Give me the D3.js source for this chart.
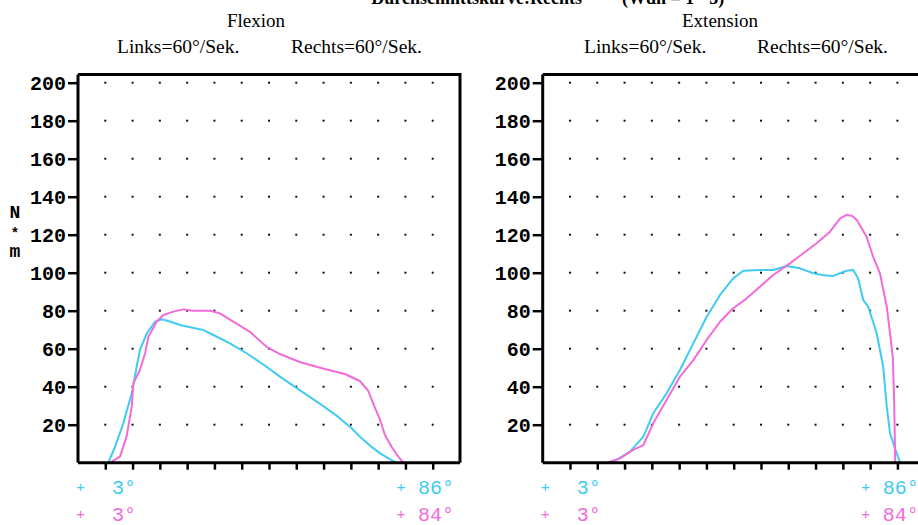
<!DOCTYPE html>
<html>
<head>
<meta charset="utf-8">
<script src="https://cdn.jsdelivr.net/npm/d3@7"></script>
<style>
  html, body { margin: 0; padding: 0; background: #fff; }
  svg { display: block; }
</style>
</head>
<body>
<svg id="chart" width="918" height="525"></svg>
<script>
// Torque curves (N*m) over the movement, sampled along the time axis (0..140)
const flexionLinks = [
  [11.1, 0], [13.6, 8.4], [16.6, 20.7], [19.7, 36.5], [21.5, 50.5], [22.7, 59.3],
  [25.2, 68], [28.2, 74.2], [30.7, 75.5], [34, 74.2], [37.4, 72.5], [42, 71],
  [45.9, 69.8], [49.6, 67.2], [55.7, 62.8], [61.8, 57.6], [69.1, 50.5], [74.0, 45.3],
  [81, 38.5], [88.7, 31], [95, 24.5], [100.4, 18], [103.3, 13.7], [107, 9],
  [110.7, 4.9], [114.9, 1.4], [116.8, 0]
];
const flexionRechts = [
  [11.7, 0], [15.4, 3.2], [17.8, 13.7], [19.7, 29.5], [20.3, 41.8], [22.7, 48.8],
  [24.6, 57.6], [25.8, 66.3], [28.8, 74.2], [31.3, 77.7], [35, 79.5], [38.6, 80.7],
  [42.2, 80], [48.4, 80], [52.0, 78.6], [56.9, 74.2], [63.0, 68.9], [69.1, 61],
  [74.0, 57.2], [81.3, 53], [88.7, 50], [97.8, 46.7], [103.3, 43], [106.3, 38],
  [108.5, 30], [110.7, 22.5], [112.5, 14.6], [114.9, 8.4], [117.4, 3.2], [119.2, 0]
];
const extensionLinks = [
  [23.5, 0], [25.9, 0.5], [32.0, 5.8], [36.9, 13.7], [40.5, 26], [45.4, 36.5],
  [50.3, 48.8], [55.2, 62.8], [60.1, 76.8], [65.0, 88.3], [69.8, 97], [73.5, 101],
  [79.6, 101.4], [84.5, 101.4], [89.4, 103.5], [94.3, 102.3], [99.2, 99.7],
  [103, 98.6], [106.5, 98.3], [111.4, 101], [113.8, 101.4], [115.6, 97], [117.5, 85.6],
  [119.3, 82.1], [122.4, 68.1], [123.6, 59.3], [124.8, 50.5], [126.1, 29.5],
  [127.3, 15.5], [129.1, 7.6], [131.0, 0]
];
const extensionRechts = [
  [23.5, 0], [28.3, 2.3], [33.2, 6.7], [36.9, 9.3], [40.5, 20.7], [45.4, 33],
  [50.3, 45.3], [55.2, 54], [60.1, 64.6], [65.0, 74.2], [69.8, 81.3], [74.8, 86.5],
  [79.6, 92.6], [84.5, 98.8], [90.6, 104.9], [95.5, 110.2], [100.4, 115.5],
  [105.3, 121.6], [109.0, 128.6], [111.4, 130.4], [113.3, 130], [115.1, 127.7],
  [118.7, 118.9], [121.1, 108.4], [123.6, 99.7], [126.1, 82.1], [127.3, 68.1],
  [128.3, 55.8], [128.8, 33], [129.2, 0]
];

const yTicks = [20, 40, 60, 80, 100, 120, 140, 160, 180, 200];
const xTicks = [10, 20, 30, 40, 50, 60, 70, 80, 90, 100, 110, 120, 130];

const panelTitles = ["Flexion", "Extension"];
const speedLinks = "Links=60°/Sek.";
const speedRechts = "Rechts=60°/Sek.";
const startAngles = ["3°", "3°"];          // [links, rechts]
const endAngles = [["86°", "84°"], ["86°", "84°"]];

const CYAN = "#3fcbf2";
const MAGENTA = "#f26bd8";

const svg = d3.select("#chart");

// Header line (runs off the top of the page)
svg.append("text")
  .attr("x", 582).attr("y", 4)
  .attr("text-anchor", "end")
  .style("font", "bold 18px 'Liberation Serif', serif")
  .text("Durchschnittskurve:Rechts");
svg.append("text")
  .attr("x", 622).attr("y", 4)
  .style("font", "bold 18px 'Liberation Serif', serif")
  .text("(Wdh = 1 - 5)");

// Unit label
const unit = svg.append("g")
  .style("font", "bold 18px 'Liberation Mono', monospace")
  .attr("text-anchor", "middle");
unit.append("text").attr("x", 15).attr("y", 218).text("N");
unit.append("text").attr("x", 15).attr("y", 238).style("font-size", "14px").text("*");
unit.append("text").attr("x", 15).attr("y", 257).text("m");

const y = d3.scaleLinear().domain([0, 200]).range([462.7, 82.7]);

const panels = [
  { left: 78, title: panelTitles[0], titleX: 256, linksX: 117, rechtsX: 291,
    links: flexionLinks, rechts: flexionRechts, ends: endAngles[0] },
  { left: 542.7, title: panelTitles[1], titleX: 720, linksX: 584, rechtsX: 757,
    links: extensionLinks, rechts: extensionRechts, ends: endAngles[1] }
];

panels.forEach(p => {
  const x = d3.scaleLinear().domain([0, 140]).range([p.left, p.left + 382]);
  const g = svg.append("g");

  // Titles
  g.append("text").attr("x", p.titleX).attr("y", 27)
    .attr("text-anchor", "middle")
    .style("font", "19px 'Liberation Serif', serif")
    .text(p.title);
  g.append("text").attr("x", p.linksX).attr("y", 53)
    .style("font", "19.5px 'Liberation Serif', serif")
    .text(speedLinks);
  g.append("text").attr("x", p.rechtsX).attr("y", 53)
    .style("font", "19.5px 'Liberation Serif', serif")
    .text(speedRechts);

  // Dot grid
  const dots = [];
  xTicks.forEach(xv => yTicks.forEach(yv => dots.push([xv, yv])));
  g.append("g").selectAll("rect").data(dots).join("rect")
    .attr("x", d => x(d[0]) - 1)
    .attr("y", d => y(d[1]) - 1)
    .attr("width", 2).attr("height", 2)
    .attr("fill", "#111");

  // Curves
  const line = d3.line().x(d => x(d[0])).y(d => y(d[1]));
  g.append("path").datum(p.links)
    .attr("d", line).attr("fill", "none")
    .attr("stroke", CYAN).attr("stroke-width", 2).attr("stroke-linejoin", "round");
  g.append("path").datum(p.rechts)
    .attr("d", line).attr("fill", "none")
    .attr("stroke", MAGENTA).attr("stroke-width", 2).attr("stroke-linejoin", "round");

  // Frame: top and right edges
  const top = y(204.3);
  g.append("path")
    .attr("d", `M${x(0)},${top}H${x(140)}V${y(0)}`)
    .attr("fill", "none").attr("stroke", "#000").attr("stroke-width", 3);

  // Y axis
  const yAxis = g.append("g")
    .attr("transform", `translate(${x(0)},0)`)
    .call(d3.axisLeft(y).tickValues(yTicks).tickSize(10).tickPadding(2));
  yAxis.select(".domain")
    .attr("d", `M0,${top}V${y(0)}`)
    .attr("stroke-width", 3);
  yAxis.selectAll(".tick line").attr("stroke-width", 2.5);
  yAxis.selectAll(".tick text")
    .attr("fill", "#000")
    .style("font", "bold 20px 'Liberation Mono', monospace")
    .attr("dy", "0.36em");

  // X axis (unlabelled time ticks)
  const xAxis = g.append("g")
    .attr("transform", `translate(0,${y(0)})`)
    .call(d3.axisBottom(x).tickValues(xTicks).tickSize(7).tickFormat(""));
  xAxis.select(".domain")
    .attr("d", `M${x(0)},0H${x(140)}`)
    .attr("stroke-width", 3);
  xAxis.selectAll(".tick line").attr("stroke-width", 2.5);

  // Start / end angle labels
  const lab = g.append("g").style("font", "20px 'Liberation Mono', monospace");
  [[CYAN, 494, p.ends[0]], [MAGENTA, 520.5, p.ends[1]]].forEach(([c, yy, endTxt]) => {
    lab.append("text").attr("x", p.left + 2.5).attr("y", yy - 2)
      .attr("text-anchor", "middle").attr("fill", c)
      .style("font-size", "15px").text("+");
    lab.append("text").attr("x", p.left + 34).attr("y", yy)
      .attr("fill", c).text(startAngles[0]);
    lab.append("text").attr("x", p.left + 323).attr("y", yy - 2)
      .attr("text-anchor", "middle").attr("fill", c)
      .style("font-size", "15px").text("+");
    lab.append("text").attr("x", p.left + 340).attr("y", yy)
      .attr("fill", c).text(endTxt);
  });
});
</script>
</body>
</html>
